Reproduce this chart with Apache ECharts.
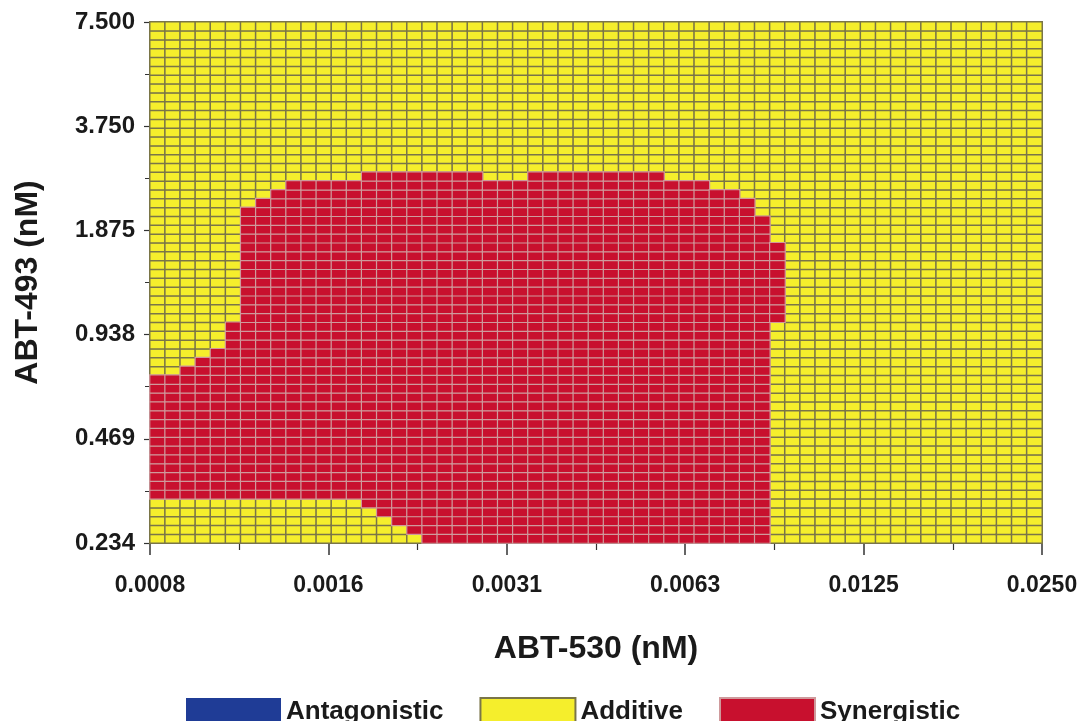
<!DOCTYPE html>
<html>
<head>
<meta charset="utf-8">
<script src="https://cdn.jsdelivr.net/npm/echarts@6/dist/echarts.min.js"></script>
<style>
  html, body { margin: 0; padding: 0; background: #fff; }
  #chart { width: 1078px; height: 721px; }
</style>
</head>
<body>
<div id="chart"></div>
<script>
// tick labels of the two log2 dose axes
const xTicks = ['0.0008', '0.0016', '0.0031', '0.0063', '0.0125', '0.0250']
const yTicks = ['0.234', '0.469', '0.938', '1.875', '3.750', '7.500']

// the response grid is 59 x 59 cells
const nCols = 59
const nRows = 59

// per column: lowest and highest synergistic row (-1 = none), row 0 at the bottom
const synLow = [
  5, 5, 5, 5, 5, 5, 5, 5, 5, 5, 5, 5, 5, 5, 4, 3, 2, 1, 0, 0,
  0, 0, 0, 0, 0, 0, 0, 0, 0, 0, 0, 0, 0, 0, 0, 0, 0, 0, 0, 0,
  0, 25, -1, -1, -1, -1, -1, -1, -1, -1, -1, -1, -1, -1, -1, -1, -1, -1, -1
]
const synHigh = [
  18, 18, 19, 20, 21, 24, 37, 38, 39, 40, 40, 40, 40, 40, 41, 41, 41, 41, 41, 41,
  41, 41, 40, 40, 40, 41, 41, 41, 41, 41, 41, 41, 41, 41, 40, 40, 40, 39, 39, 38,
  36, 33, -1, -1, -1, -1, -1, -1, -1, -1, -1, -1, -1, -1, -1, -1, -1, -1, -1
]

const colorAnt = '#1f3c96'
const colorAdd = '#f5ee2c'
const colorSyn = '#c8102e'

let cols = [], rows = []
for (let i = 0; i < nCols; i++) cols.push(i)
for (let j = 0; j < nRows; j++) rows.push(j)

let additive = [], synergistic = []
for (let c = 0; c < nCols; c++) {
  for (let r = 0; r < nRows; r++) {
    if (synLow[c] >= 0 && r >= synLow[c] && r <= synHigh[c]) synergistic.push([c, r, 2])
    else additive.push([c, r, 1])
  }
}

const font = 'Liberation Sans, Arial, sans-serif'

let myChart = echarts.init(document.getElementById('chart'))
myChart.setOption({
  animation: false,
  textStyle: { fontFamily: font },
  grid: { left: 150, right: 36, top: 22, bottom: 178, outerBoundsMode: 'none', containLabel: false },
  legend: {
    left: 181,
    top: 692,
    icon: 'rect',
    itemWidth: 95,
    itemHeight: 28,
    itemGap: 36,
    textStyle: { fontSize: 26, fontWeight: 'bold', color: '#1a1a1a', fontFamily: font, padding: [0, 0, 6, 0] },
    data: ['Antagonistic', 'Additive', 'Synergistic']
  },
  xAxis: [
    { type: 'category', data: cols, show: false, gridIndex: 0 },
    {
      type: 'value', min: 0, max: 5, interval: 1, position: 'bottom', gridIndex: 0,
      axisLine: { show: true, lineStyle: { color: '#333', width: 1.5 } },
      axisTick: { show: true, length: 12, lineStyle: { color: '#333', width: 1.5 } },
      minorTick: { show: true, splitNumber: 2, length: 7, lineStyle: { color: '#333', width: 1.2 } },
      splitLine: { show: false },
      axisLabel: {
        margin: 31, fontSize: 23, fontWeight: 'bold', color: '#1a1a1a',
        formatter: v => xTicks[Math.round(v)]
      },
      name: 'ABT-530 (nM)', nameLocation: 'middle', nameGap: 90,
      nameTextStyle: { fontSize: 32, fontWeight: 'bold', color: '#1a1a1a' }
    }
  ],
  yAxis: [
    { type: 'category', data: rows, show: false, gridIndex: 0 },
    {
      type: 'value', min: 0, max: 5, interval: 1, position: 'left', gridIndex: 0,
      axisLine: { show: true, lineStyle: { color: '#333', width: 1.5 } },
      axisTick: { show: true, length: 6, lineStyle: { color: '#333', width: 1.2 } },
      minorTick: { show: true, splitNumber: 2, length: 5, lineStyle: { color: '#333', width: 1 } },
      splitLine: { show: false },
      axisLabel: {
        margin: 15, fontSize: 24, fontWeight: 'bold', color: '#1a1a1a',
        formatter: v => yTicks[Math.round(v)]
      },
      name: 'ABT-493 (nM)', nameLocation: 'middle', nameGap: 106, nameRotate: 90,
      nameTextStyle: { fontSize: 32, fontWeight: 'bold', color: '#1a1a1a' }
    }
  ],
  series: [
    {
      name: 'Antagonistic', type: 'heatmap', xAxisIndex: 0, yAxisIndex: 0,
      data: [], itemStyle: { color: colorAnt, borderWidth: 0 }
    },
    {
      name: 'Additive', type: 'heatmap', xAxisIndex: 0, yAxisIndex: 0, progressive: 0,
      data: additive,
      itemStyle: { color: colorAdd, borderColor: '#7a7548', borderWidth: 1.5 },
      emphasis: { disabled: true }
    },
    {
      name: 'Synergistic', type: 'heatmap', xAxisIndex: 0, yAxisIndex: 0, progressive: 0,
      data: synergistic,
      itemStyle: { color: colorSyn, borderColor: '#cf9a9c', borderWidth: 1.2 },
      emphasis: { disabled: true }
    }
  ]
})
</script>
</body>
</html>
